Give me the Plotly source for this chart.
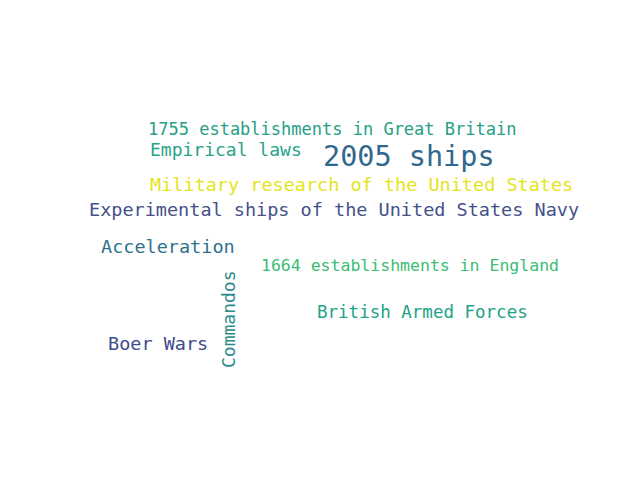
import plotly.graph_objects as go

words = ["1755 establishments in Great Britain", "Empirical laws", "2005 ships",
         "Military research of the United States",
         "Experimental ships of the United States Navy", "Acceleration",
         "1664 establishments in England", "Commandos", "British Armed Forces",
         "Boer Wars"]
x = [324, 218, 401, 353, 326, 160, 402, 226, 414, 150]
y = [129, 149, 156, 184, 209, 246, 265, 311, 312, 343]
sizes = [17, 18, 28.5, 18.5, 18.5, 18.5, 16.5, 18, 17.5, 18.5]
angles = [0, 0, 0, 0, 0, 0, 0, -90, 0, 0]
colors = ["#25a085", "#27a387", "#31688e", "#e6e419", "#46508a", "#2c728e",
          "#3dbc74", "#2a8c8c", "#21a386", "#3e4c8a"]

fig = go.Figure()
fig.add_trace(go.Scatter(x=[0, 640], y=[0, 480], mode="markers",
                         marker=dict(opacity=0), hoverinfo="skip"))
for w, xi, yi, s, a, c in zip(words, x, y, sizes, angles, colors):
    fig.add_annotation(x=xi, y=yi, text=w, showarrow=False, textangle=a,
                       yshift=8 if a == 0 else 0, xshift=-6 if a else 0,
                       font=dict(family="DejaVu Sans Mono", size=s, color=c))

fig.update_xaxes(range=[0, 640], visible=False)
fig.update_yaxes(range=[480, 0], visible=False)
fig.update_layout(width=640, height=480, margin=dict(l=0, r=0, t=0, b=0),
                  plot_bgcolor="white", paper_bgcolor="white", showlegend=False)
fig.write_html("out.html")
